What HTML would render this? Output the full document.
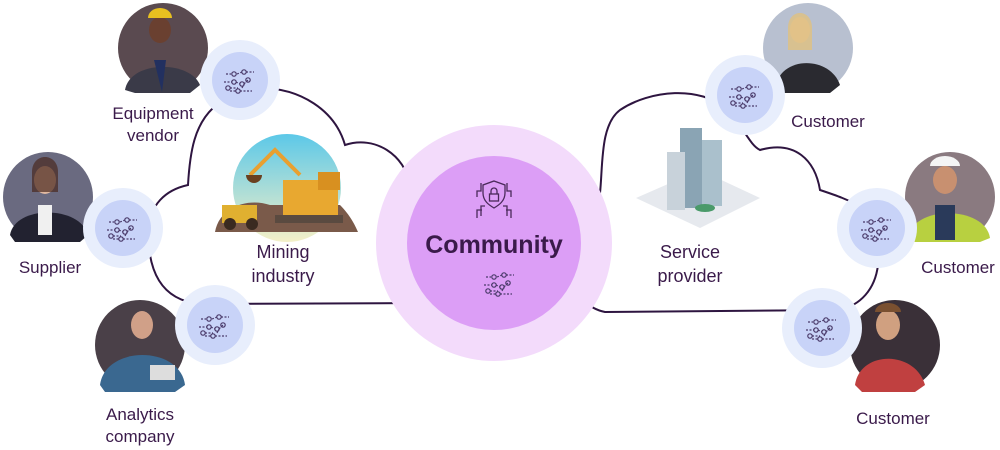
<!DOCTYPE html>
<html><head><meta charset="utf-8"><style>
html,body{margin:0;padding:0;background:#fff;}
svg{display:block;}
text{font-family:"Liberation Sans","DejaVu Sans",sans-serif;fill:#3a1a4a;}
</style></head><body>
<svg width="1000" height="450" viewBox="0 0 1000 450" xmlns="http://www.w3.org/2000/svg">
<defs>
<linearGradient id="sky" x1="0" y1="0" x2="0" y2="1"><stop offset="0" stop-color="#5cc8e8"/><stop offset="1" stop-color="#f4f0c8"/></linearGradient>
<g id="icon" fill="none" stroke="#4a3a6a" stroke-width="1.2">
<circle cx="-6" cy="-8" r="2.2"/><circle cx="4" cy="-10" r="2.2"/><circle cx="-6" cy="0" r="2.2"/><circle cx="8" cy="-2" r="2.2"/><circle cx="2" cy="2" r="2.2"/><circle cx="-12" cy="6" r="2.2"/><circle cx="-2" cy="9" r="2.2"/>
<path d="M-14 -8h5M-3 -8l5-2M6 -10h8M-16 0h8M-4 0l4 2M4 2l4-4M-10 6h8M2 6l3-6M-10 9h6M0 9h12" stroke-dasharray="2 1.5"/>
</g>
</defs>

<!-- clouds -->
<g fill="none" stroke="#2e1540" stroke-width="2">
<path d="M213 108 C195 125 190 150 188 185 C165 190 150 205 148 230 C148 270 160 300 200 304 L425 303"/>
<path d="M260 88 C300 88 335 110 345 145 C375 135 405 155 410 185 L425 190"/>
<path d="M600 193 C603 165 600 125 620 110 C650 90 700 85 728 110 C745 130 750 145 760 150 C795 140 815 160 820 190 C835 195 850 200 862 208"/>
<path d="M878 265 C875 290 860 305 840 310 L605 312 C595 310 588 305 583 300"/>
</g>

<!-- central circle -->
<circle cx="494" cy="243" r="118" fill="#f3dbfb"/>
<circle cx="494" cy="243" r="87" fill="#dc9ef6"/>
<g fill="none" stroke="#4a2a5a" stroke-width="1.3">
<path d="M494 181 l11 4 v8 c0 8 -6 12 -11 15 c-5 -3 -11 -7 -11 -15 v-8z"/>
<rect x="489.5" y="194" width="9" height="7"/><path d="M491 194 v-3 a3 3 0 0 1 6 0 v3"/>
<path d="M481 183 v8 h-4 v6M507 183 v8 h4 v6M482 210 h-5 v8M506 210 h5 v8M485 206 h-4 v10M503 206 h4 v10"/>
</g>
<text x="494" y="253" text-anchor="middle" font-size="25" font-weight="bold" fill="#3a1550">Community</text>
<use href="#icon" x="500" y="285"/>

<!-- mining image -->
<circle cx="287" cy="188" r="54" fill="url(#sky)"/>
<path d="M215 232 C220 205 250 198 270 205 L340 205 C350 215 355 225 358 232 Z" fill="#7a5a4a"/>
<rect x="283" y="180" width="55" height="35" fill="#e8a830"/>
<rect x="318" y="172" width="22" height="18" fill="#d89020"/>
<path d="M250 175 L275 150 L300 175" stroke="#e8a030" stroke-width="4" fill="none"/>
<path d="M246 175 a8 8 0 0 0 16 0z" fill="#6a4020"/>
<rect x="275" y="215" width="68" height="8" fill="#5a4a40"/>
<rect x="222" y="205" width="35" height="18" fill="#e0b030"/>
<circle cx="230" cy="224" r="6" fill="#3a2a20"/><circle cx="252" cy="224" r="6" fill="#3a2a20"/>
<text x="283" y="258" text-anchor="middle" font-size="18">Mining</text>
<text x="283" y="282" text-anchor="middle" font-size="18">industry</text>

<!-- building -->
<path d="M636 198 L700 170 L760 198 L700 228Z" fill="#e6e9ee"/>
<rect x="680" y="128" width="22" height="80" fill="#8aa4b4"/>
<rect x="667" y="152" width="18" height="58" fill="#c8d2da"/>
<rect x="702" y="140" width="20" height="66" fill="#aac0cc"/>
<ellipse cx="705" cy="208" rx="10" ry="4" fill="#4a9a6a"/>
<text x="690" y="258" text-anchor="middle" font-size="18">Service</text>
<text x="690" y="282" text-anchor="middle" font-size="18">provider</text>

<!-- photos -->
<g>
<circle cx="163" cy="48" r="45" fill="#5a4a50"/><ellipse cx="160" cy="30" rx="11" ry="13" fill="#6a4030"/><path d="M125 90 C130 60 190 60 200 85 L190 93 L135 93Z" fill="#3a3a48"/><path d="M154 60 L166 60 L162 92Z" fill="#223060"/><path d="M148 18 a12 10 0 0 1 24 0z" fill="#e8c020"/>
<circle cx="48" cy="197" r="45" fill="#6a6a80"/><ellipse cx="45" cy="180" rx="11" ry="14" fill="#e0b8a0"/><path d="M32 172 c0-20 26-20 26 0 v20 h-26z" fill="#4a2a20" opacity=".7"/><path d="M10 235 C15 205 80 205 88 235 L80 242 L15 242Z" fill="#222230"/><path d="M38 205 h14 v30 h-14z" fill="#f0f0f0"/>
<circle cx="140" cy="345" r="45" fill="#4a4048"/><ellipse cx="142" cy="325" rx="11" ry="14" fill="#d0a088"/><path d="M100 385 C105 345 180 345 185 385 L175 392 L105 392Z" fill="#3a6890"/><rect x="150" y="365" width="25" height="15" fill="#ddd"/>
<circle cx="808" cy="48" r="45" fill="#b8c0d0"/><ellipse cx="800" cy="30" rx="10" ry="13" fill="#e8c8a8"/><path d="M788 28 c0-20 24-20 24 0 v22 h-24z" fill="#e0c080" opacity=".8"/><path d="M775 90 C778 55 830 55 840 85 L830 93 L780 93Z" fill="#2a2a30"/>
<circle cx="950" cy="197" r="45" fill="#8a7a80"/><ellipse cx="945" cy="180" rx="12" ry="14" fill="#c89070"/><path d="M930 166 a15 10 0 0 1 30 0z" fill="#f4f4f4"/><path d="M908 238 C912 205 985 205 990 238 L980 242 L915 242Z" fill="#b8d040"/><path d="M935 205 h20 v35 h-20z" fill="#2a3a5a"/>
<circle cx="895" cy="345" r="45" fill="#3a3038"/><ellipse cx="888" cy="325" rx="12" ry="15" fill="#d0a080"/><path d="M875 312 a13 9 0 0 1 26 0z" fill="#7a5030"/><path d="M855 385 C860 350 915 350 925 385 L915 392 L862 392Z" fill="#c04040"/>
</g>

<!-- node circles -->
<g>
<circle cx="240" cy="80" r="40" fill="#e8eefc"/><circle cx="240" cy="80" r="28" fill="#c8d3f8"/><use href="#icon" x="240" y="82"/>
<circle cx="123" cy="228" r="40" fill="#e8eefc"/><circle cx="123" cy="228" r="28" fill="#c8d3f8"/><use href="#icon" x="123" y="230"/>
<circle cx="215" cy="325" r="40" fill="#e8eefc"/><circle cx="215" cy="325" r="28" fill="#c8d3f8"/><use href="#icon" x="215" y="327"/>
<circle cx="745" cy="95" r="40" fill="#e8eefc"/><circle cx="745" cy="95" r="28" fill="#c8d3f8"/><use href="#icon" x="745" y="97"/>
<circle cx="877" cy="228" r="40" fill="#e8eefc"/><circle cx="877" cy="228" r="28" fill="#c8d3f8"/><use href="#icon" x="877" y="230"/>
<circle cx="822" cy="328" r="40" fill="#e8eefc"/><circle cx="822" cy="328" r="28" fill="#c8d3f8"/><use href="#icon" x="822" y="330"/>
</g>

<!-- labels -->
<g font-size="17">
<text x="153" y="119" text-anchor="middle">Equipment</text>
<text x="153" y="141" text-anchor="middle">vendor</text>
<text x="50" y="273" text-anchor="middle">Supplier</text>
<text x="140" y="420" text-anchor="middle">Analytics</text>
<text x="140" y="442" text-anchor="middle">company</text>
<text x="828" y="127" text-anchor="middle">Customer</text>
<text x="958" y="273" text-anchor="middle">Customer</text>
<text x="893" y="424" text-anchor="middle">Customer</text>
</g>
</svg>
</body></html>
